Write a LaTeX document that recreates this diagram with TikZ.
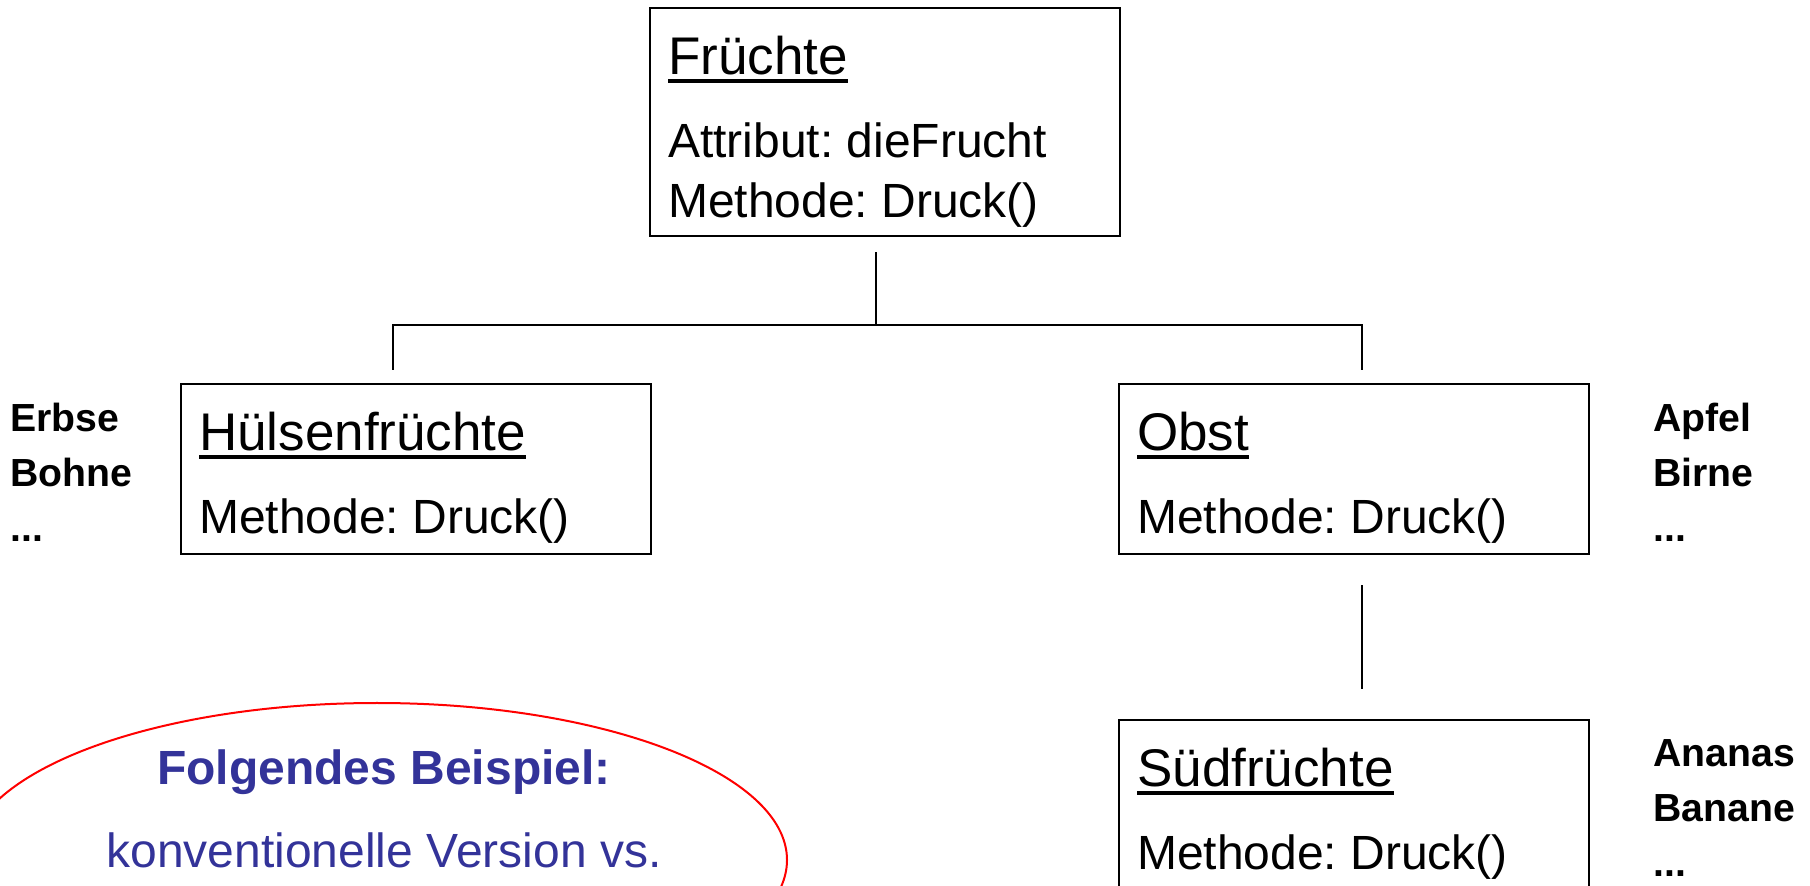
\documentclass[tikz,border=0pt]{standalone}
\usepackage{fontspec}
\setmainfont{Liberation Sans}

\definecolor{folienblau}{RGB}{51,51,153}

% Klassenname mit dickem Unterstrich
\newcommand{\unterstrich}[1]{\sbox0{#1}\rlap{\rule[-4.5pt]{\wd0}{2pt}}\usebox0}
% Klassenkasten: Hoehe, Name, Zeilen darunter
\newcommand{\klasse}[3]{%
  \vbox to #1{\offinterlineskip
    \hbox to 235pt{\hspace{9pt}\rule{0pt}{33pt}\smash{\fontsize{26.5pt}{30pt}\selectfont\unterstrich{#2}}\hfil}
    \hbox to 235pt{\hspace{9pt}\rule{0pt}{41.5pt}\smash{\vtop{\lineskiplimit=-\maxdimen\baselineskip=30pt #3}}\hfil}
    \vfil}}

\begin{document}
\frenchspacing
\begin{tikzpicture}
[
    x=0.5pt, y=-0.5pt,
    klasse/.style={draw, line width=1.2pt, inner sep=0pt, anchor=north west,
        font=\fontsize{24pt}{30pt}\selectfont},
    linie/.style={line width=0.9pt},
    beispiele/.style={anchor=base west, inner sep=0pt,
        font=\fontsize{19.6pt}{27.3pt}\selectfont\bfseries},
    hinweis/.style={anchor=base, inner sep=0pt, text=folienblau,
        font=\fontsize{24pt}{30pt}\selectfont},
]
\useasboundingbox (0,0) rectangle (1810,886);
\clip (0,0) rectangle (1810,886);

% Klassen
\node [klasse] (fr) at (649,7)
    {\klasse{114pt}{Früchte}{\hbox{Attribut: dieFrucht}\hbox{Methode: Druck()}}};
\node [klasse] (huel) at (180,383)
    {\klasse{85pt}{Hülsenfrüchte}{\hbox{Methode: Druck()}}};
\node [klasse] (obst) at (1118,383)
    {\klasse{85pt}{Obst}{\hbox{Methode: Druck()}}};
\node [klasse] (sued) at (1118,719)
    {\klasse{85pt}{Südfrüchte}{\hbox{Methode: Druck()}}};

% Vererbung
\coordinate (abzweig) at (876,325);
\draw [linie, shorten <=7.5pt] (fr.south -| abzweig) -- (abzweig);
\draw [linie, shorten <=6.5pt, shorten >=6.5pt]
    ([xshift=-11.5pt]huel.north) |- (abzweig) -| ([xshift=3.75pt]obst.north);
\draw [linie, shorten <=15pt, shorten >=15pt]
    ([xshift=3.75pt]obst.south) -- ([xshift=3.75pt]sued.north);

% Beispiele neben den Klassen
\node [beispiele] (huelBsp) at (10,432) {\vtop{\hbox{Erbse}\hbox{Bohne}\hbox{...}}};
\node [beispiele] (obstBsp) at (1653,432) {\vtop{\hbox{Apfel}\hbox{Birne}\hbox{...}}};
\node [beispiele] (suedBsp) at (1653,767) {\vtop{\hbox{Ananas}\hbox{Banane}\hbox{...}}};

% Hinweis unten links
\draw [red, line width=1pt] (377,860) ellipse [x radius=205pt, y radius=78.5pt];
\node [hinweis, font=\fontsize{24pt}{30pt}\selectfont\bfseries] (folg) at (384,785) {Folgendes Beispiel:};
\node [hinweis] (konv) at (384,868) {konventionelle Version vs.};
\end{tikzpicture}
\end{document}
